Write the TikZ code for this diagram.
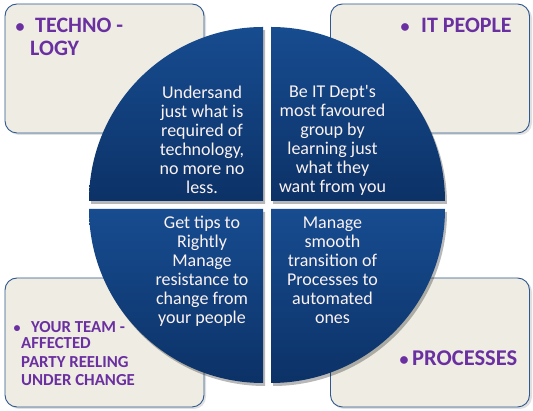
\documentclass[tikz,border=0pt]{standalone}
\usepackage{fontspec}
\setmainfont{Carlito}[Ligatures=TeXOff]
\definecolor{boxfill}{HTML}{EEECE3}
\definecolor{boxline}{HTML}{2F5790}
\definecolor{headc}{HTML}{6A2FA0}
\definecolor{qtop}{HTML}{174C90}
\definecolor{qbot}{HTML}{0C3267}
\definecolor{qtext}{HTML}{FCF2F2}
\begin{document}
\begin{tikzpicture}[x=1pt,y=1pt,
  box/.style={fill=boxfill, draw=boxline, line width=0.9pt, rounded corners=12pt, minimum width=199pt, minimum height=129pt, inner sep=0pt},
  boxshadow/.style={fill=black, opacity=0.12, rounded corners=12pt},
  quad/.style={top color=qtop, bottom color=qbot, draw=none},
  qshadow/.style={fill=black, opacity=0.28},
  qtxt/.style={text=qtext, align=center, font=\fontsize{18}{19}\selectfont, inner sep=0pt},
  headL/.style={text=headc, font=\bfseries\fontsize{22}{24}\selectfont, anchor=base west, inner sep=0pt},
  headM/.style={text=headc, font=\bfseries\fontsize{16.8}{18}\selectfont, anchor=base west, inner sep=0pt},
  headP/.style={text=headc, font=\bfseries\fontsize{22.5}{24}\selectfont, anchor=base west, inner sep=0pt},
  bulL/.style={text=headc, font=\bfseries\fontsize{18}{20}\selectfont, anchor=base, inner sep=0pt},
  bulM/.style={text=headc, font=\bfseries\fontsize{14}{16}\selectfont, anchor=base, inner sep=0pt}]
\useasboundingbox (0,0) rectangle (533,411);
\fill[white] (0,0) rectangle (533,411);

% box shadows
\fill[boxshadow] (7,276) rectangle (206,405);
\fill[boxshadow] (332,276) rectangle (532,405);
\fill[boxshadow] (7,2) rectangle (206,131);
\fill[boxshadow] (332,2) rectangle (532,131);

% boxes
\node[box] (boxTL) at (104.5,342.5) {};
\node[box] (boxTR) at (430,342.5) {};
\node[box] (boxBL) at (104.5,68.5) {};
\node[box] (boxBR) at (430,68.5) {};

% quadrant shadows
\begin{scope}[shift={(2,-3)}]
\fill[qshadow] (263,210) -- (89,210) arc[start angle=180,end angle=90,radius=174pt] -- cycle;
\fill[qshadow] (271,210) -- (271,384) arc[start angle=90,end angle=0,radius=174pt] -- cycle;
\fill[qshadow] (263,202) -- (263,28) arc[start angle=270,end angle=180,radius=174pt] -- cycle;
\fill[qshadow] (271,202) -- (445,202) arc[start angle=0,end angle=-90,radius=174pt] -- cycle;
\end{scope}

% quadrants
\shade[quad] (263,210) -- (89,210) arc[start angle=180,end angle=90,radius=174pt] -- cycle;
\shade[quad] (271,210) -- (271,384) arc[start angle=90,end angle=0,radius=174pt] -- cycle;
\shade[quad] (263,202) -- (263,28) arc[start angle=270,end angle=180,radius=174pt] -- cycle;
\shade[quad] (271,202) -- (445,202) arc[start angle=0,end angle=-90,radius=174pt] -- cycle;

% quadrant texts
\node[qtxt] (tTL) at (202,271) {Undersand\\just what is\\required of\\technology,\\no more no\\less.};
\node[qtxt] (tTR) at (332.5,271) {Be IT Dept's\\most favoured\\group by\\learning just\\what they\\want from you};
\node[qtxt] (tBL) at (202,140) {Get tips to\\Rightly\\Manage\\resistance to\\change from\\your people};
\node[qtxt] (tBR) at (332.5,141) {Manage\\smooth\\transition of\\Processes to\\automated\\ones};

% headings
\node[bulL] (bTL) at (20,378) {•};
\node[headL] (hTL1) at (35,378) {TECHNO -};
\node[headL] (hTL2) at (30,355.5) {LOGY};

\node[bulL] (bTR) at (405,378) {•};
\node[headL] (hTR) at (421,378) {IT PEOPLE};

\node[bulM] (bBL) at (17,78.3) {•};
\node[headM] (hBL1) at (31,78.3) {YOUR TEAM -};
\node[headM] (hBL2) at (21,62.7) {AFFECTED};
\node[headM] (hBL3) at (21,43.7) {PARTY REELING};
\node[headM] (hBL4) at (21,25) {UNDER CHANGE};

\node[bulL] (bBR) at (404,45) {•};
\node[headP] (hBR) at (412,45) {PROCESSES};
\end{tikzpicture}
\end{document}
